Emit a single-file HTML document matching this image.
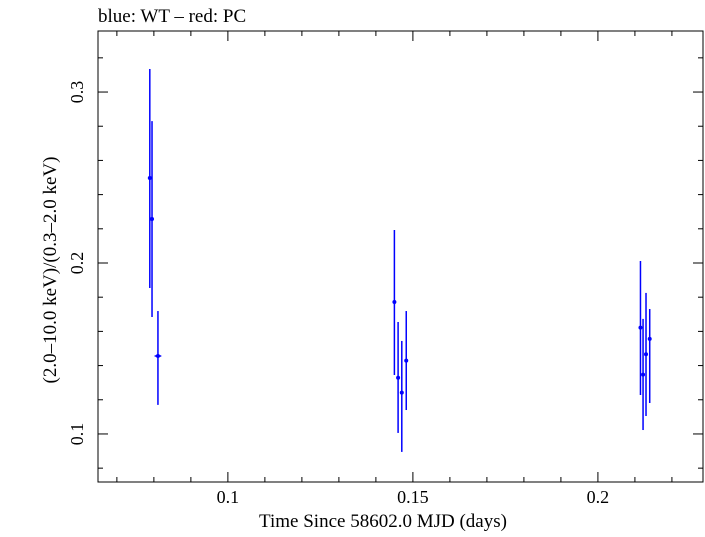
<!DOCTYPE html>
<html><head><meta charset="utf-8"><style>
body{margin:0;background:#fff;}
text{font-family:"Liberation Serif","DejaVu Serif",serif;fill:#000;}
</style></head><body>
<svg id="chart" width="705" height="532" xmlns="http://www.w3.org/2000/svg">
<text x="98" y="22" font-size="19">blue: WT – red: PC</text>
<rect x="98" y="31" width="605" height="451" fill="none" stroke="#000" stroke-width="1"/>
<g id="ticks"></g><g id="marks"></g>
<text x="383" y="527" font-size="19" text-anchor="middle">Time Since 58602.0 MJD (days)</text>
<text transform="translate(56,270) rotate(-90)" font-size="19" text-anchor="middle">(2.0–10.0 keV)/(0.3–2.0 keV)</text>
</svg>
<script>
const times=[0.0789,0.0795,0.0811,0.1450,0.1460,0.1470,0.1482,0.2115,0.2122,0.2130,0.2140];
const ratios=[0.2497,0.2257,0.1456,0.1772,0.1329,0.1242,0.1429,0.1622,0.1347,0.1466,0.1556];
const errHi=[0.3135,0.2830,0.1719,0.2193,0.1655,0.1544,0.1719,0.2012,0.1673,0.1825,0.1731];
const errLo=[0.1854,0.1684,0.1170,0.1345,0.1006,0.0895,0.1140,0.1228,0.1023,0.1105,0.1181];
const timeErr=[0.0004,0.0004,0.0009,0.0004,0.0004,0.0004,0.0004,0.0004,0.0004,0.0004,0.0004];
const xTicks=[0.1,0.15,0.2];
const yTicks=[0.1,0.2,0.3];
const X0=0.0649,X1=0.2284,Y0=0.0719,Y1=0.3357;
const L=98,R=703,T=31,B=482;
const sx=v=>L+(v-X0)/(X1-X0)*(R-L);
const sy=v=>B-(v-Y0)/(Y1-Y0)*(B-T);
const NS="http://www.w3.org/2000/svg";
function mk(tag,attrs,parent){const e=document.createElementNS(NS,tag);for(const k in attrs)e.setAttribute(k,attrs[k]);parent.appendChild(e);return e;}
const tg=document.getElementById('ticks');
for(let v=0.07;v<=0.2281;v+=0.01){const x=sx(v);const major=xTicks.some(t=>Math.abs(t-v)<1e-6);const len=major?10:5;
 const a=mk('line',{x1:x,x2:x,y1:B,y2:B-len,stroke:'#000'},tg);
 
 
 const b=mk('line',{x1:x,x2:x,y1:T,y2:T+len,stroke:'#000'},tg);
 
 }
xTicks.forEach(v=>{const t=mk('text',{x:sx(v),y:503,'font-size':18,'text-anchor':'middle'},tg);t.textContent=String(v);
 
 });
for(let v=0.08;v<=0.3351;v+=0.02){const y=sy(v);const major=yTicks.some(t=>Math.abs(t-v)<1e-6);const len=major?10:5;
 const a=mk('line',{x1:L,x2:L+len,y1:y,y2:y,stroke:'#000'},tg);
 
 
 const b=mk('line',{x1:R,x2:R-len,y1:y,y2:y,stroke:'#000'},tg);
 
 }
yTicks.forEach(v=>{const t=mk('text',{transform:`translate(83,${sy(v)}) rotate(-90)`,'font-size':18,'text-anchor':'middle'},tg);t.textContent=String(v);
 
 });
const mg=document.getElementById('marks');
times.forEach((t,i)=>{const g=mk('g',{},mg);
 
 
 mk('line',{x1:sx(t),x2:sx(t),y1:sy(errHi[i]),y2:sy(errLo[i]),stroke:'#0000ff','stroke-width':1.5},g);
 mk('line',{x1:sx(t-timeErr[i]),x2:sx(t+timeErr[i]),y1:sy(ratios[i]),y2:sy(ratios[i]),stroke:'#0000ff','stroke-width':1.5},g);
 mk('circle',{cx:sx(t),cy:sy(ratios[i]),r:2,fill:'#0000ff'},g);});
</script>
</body></html>
